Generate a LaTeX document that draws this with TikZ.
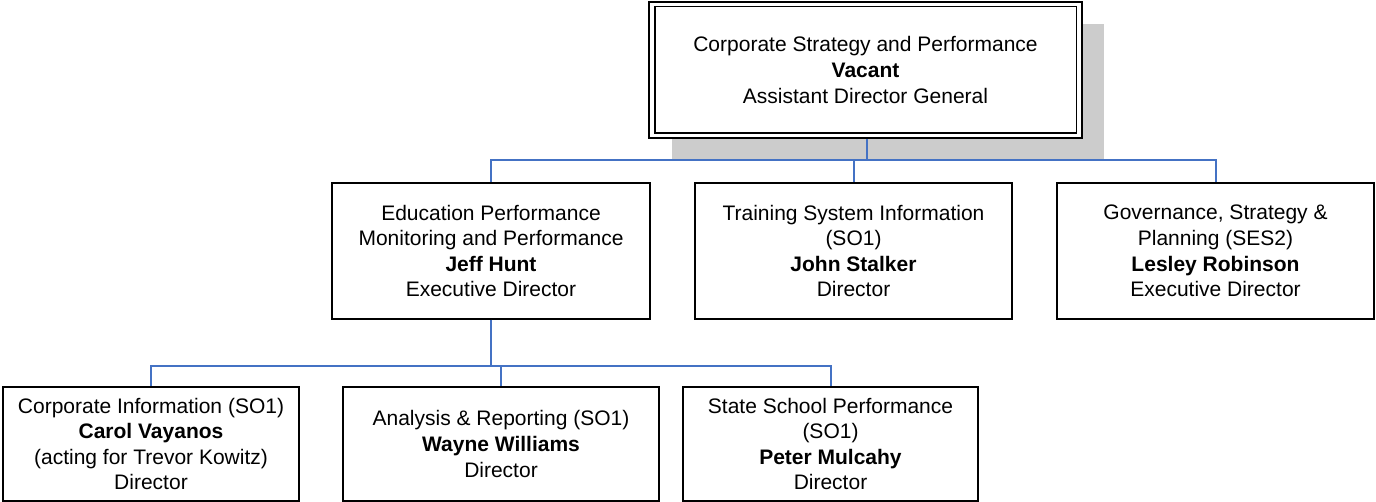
\documentclass[tikz,border=0pt]{standalone}
\usepackage{fontspec}
\setmainfont{Liberation Sans}
\definecolor{connblue}{RGB}{68,114,196}
\definecolor{shadowgray}{RGB}{204,204,204}
\begin{document}
\begin{tikzpicture}[x=1pt,y=-1pt,
  box/.style={draw=black,line width=1.5pt,fill=white,align=center,inner sep=0pt,
    font=\fontsize{21}{25.6}\selectfont},
  conn/.style={draw=connblue,line width=2pt}]
\useasboundingbox (0,0) rectangle (1376,502);
% shadow of top box
\fill[shadowgray] (672,24) rectangle (1104,160);
% top box (double border)
\node[box,line width=2.2pt,minimum width=433pt,minimum height=136pt] (top) at (865.5,70)
  {Corporate Strategy and Performance\\\textbf{Vacant}\\Assistant Director General};
\draw[line width=1.2pt] (655,6.5) rectangle (1076.5,133);
% second level
\node[box,minimum width=318pt,minimum height=136pt] (edu) at (491,251)
  {Education Performance\\Monitoring and Performance\\\textbf{Jeff Hunt}\\Executive Director};
\node[box,minimum width=317pt,minimum height=136pt] (train) at (853.5,251)
  {Training System Information\\(SO1)\\\textbf{John Stalker}\\Director};
\node[box,minimum width=317pt,minimum height=136pt] (gov) at (1215.5,251)
  {Governance, Strategy \&\\Planning (SES2)\\\textbf{Lesley Robinson}\\Executive Director};
% third level
\node[box,minimum width=296pt,minimum height=114pt] (ci) at (151,444)
  {Corporate Information (SO1)\\\textbf{Carol Vayanos}\\(acting for Trevor Kowitz)\\Director};
\node[box,minimum width=316pt,minimum height=114pt] (ar) at (501,444)
  {Analysis \& Reporting (SO1)\\\textbf{Wayne Williams}\\Director};
\node[box,minimum width=295pt,minimum height=114pt] (ss) at (830.5,444)
  {State School Performance\\(SO1)\\\textbf{Peter Mulcahy}\\Director};
% connectors
\coordinate (bar1) at (866.5,160);
\coordinate (bar2) at (491,366);
\draw[conn] ([xshift=1pt]top.south) -- (bar1);
\draw[conn] (edu.north) |- (bar1) -| (gov.north);
\draw[conn] (train.north) -- (train.north |- bar1);
\draw[conn] (edu.south) -- (bar2);
\draw[conn] (ci.north) |- (bar2) -| (ss.north);
\draw[conn] (ar.north) -- (ar.north |- bar2);
\end{tikzpicture}
\end{document}
